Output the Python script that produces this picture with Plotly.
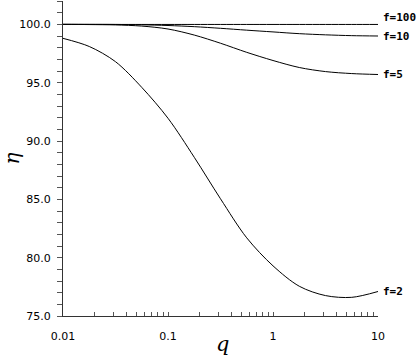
import plotly.graph_objects as go

# q values (log scale) and efficiency eta for each f
q = [0.01, 0.0178, 0.0316, 0.0562, 0.1, 0.178, 0.316, 0.562, 1.0, 1.78, 3.16, 5.62, 10]
eta_f100 = [99.99] * len(q)
eta_f10 = [100.0, 100.0, 99.99, 99.96, 99.9, 99.8, 99.66, 99.5, 99.35, 99.2, 99.1, 99.03, 99.0]
eta_f5 = [100.0, 99.98, 99.95, 99.85, 99.6, 99.08, 98.38, 97.6, 96.9, 96.3, 95.95, 95.78, 95.7]
eta_f2 = [98.8, 98.1, 96.8, 94.6, 91.95, 88.6, 85.05, 81.7, 79.3, 77.55, 76.75, 76.6, 77.1]

series = [("f=100", eta_f100, 7), ("f=10", eta_f10, 0), ("f=5", eta_f5, 0), ("f=2", eta_f2, 0)]

x_major = [0.01, 0.1, 1, 10]
x_major_text = ["0.01", "0.1", "1", "10"]
y_ticks = [75, 80, 85, 90, 95, 100]
y_ticks_text = ["75.0", "80.0", "85.0", "90.0", "95.0", "100.0"]

fig = go.Figure()
annotations = []
for name, vals, shift in series:
    fig.add_trace(go.Scatter(
        x=q, y=vals, mode="lines", name=name,
        line=dict(color="black", width=1, shape="spline", smoothing=0.9),
        showlegend=False
    ))
    annotations.append(dict(
        x=1, y=vals[-1], xref="x", yref="y", text=name, showarrow=False,
        xanchor="left", yanchor="middle", xshift=3, yshift=shift,
        font=dict(family="DejaVu Sans Mono", size=11, color="black", weight="bold")
    ))

# minor ticks on the log axis: 1..9 in every decade
x_tickvals = []
x_ticktext = []
for d in [0.01, 0.1, 1]:
    for m in range(1, 10):
        v = round(d * m, 4)
        x_tickvals.append(v)
        x_ticktext.append(x_major_text[x_major.index(v)] if v in x_major else "")
x_tickvals.append(10)
x_ticktext.append("10")

annotations.append(dict(
    x=0.505, y=-0.09, xref="paper", yref="paper", text="<i>q</i>", showarrow=False,
    font=dict(family="DejaVu Serif", size=21, color="black"),
    xanchor="center", yanchor="middle"
))
annotations.append(dict(
    x=-0.165, y=0.5, xref="paper", yref="paper", text="<i>η</i>", showarrow=False,
    textangle=-90, font=dict(family="DejaVu Serif", size=20, color="black"),
    xanchor="center", yanchor="middle"
))

fig.update_layout(
    width=419, height=355,
    margin=dict(l=63, r=41, t=1, b=39),
    plot_bgcolor="white", paper_bgcolor="white",
    font=dict(family="DejaVu Sans", size=11, color="black"),
    annotations=annotations,
    xaxis=dict(
        type="log", range=[-2, 1], showgrid=False, zeroline=False,
        showline=True, linecolor="#333", linewidth=1,
        tickmode="array", tickvals=x_tickvals, ticktext=x_ticktext,
        ticks="inside", ticklen=4, tickcolor="#555", ticklabelstandoff=10
    ),
    yaxis=dict(
        range=[75, 102], showgrid=False, zeroline=False,
        showline=True, linecolor="#333", linewidth=1,
        tickmode="array", tickvals=y_ticks, ticktext=y_ticks_text,
        ticks="outside", ticklen=5, tickcolor="#555", ticklabelstandoff=4,
        minor=dict(dtick=1, ticks="outside", ticklen=5, tickcolor="#555", showgrid=False)
    ),
)

fig.write_html("out.html", config={"displayModeBar": False},
               post_script="document.body.style.margin='0';")
